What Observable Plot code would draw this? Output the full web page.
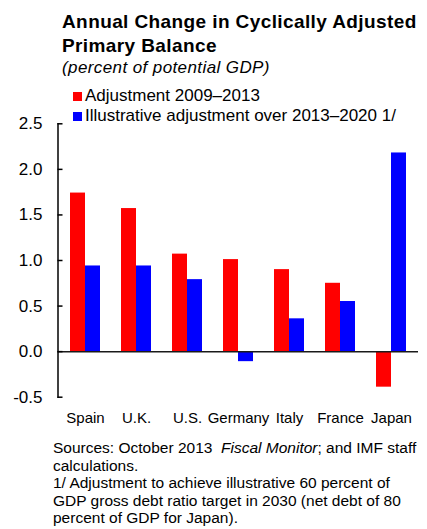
<!DOCTYPE html>
<html><head><meta charset="utf-8">
<script src="https://cdn.jsdelivr.net/npm/d3@7"></script>
<script src="https://cdn.jsdelivr.net/npm/@observablehq/plot@0.6"></script>
<style>
body{margin:0;background:#fff;}
#wrap{position:relative;width:427px;height:529px;font-family:"Liberation Sans",Arial,sans-serif;color:#000;overflow:hidden;background:#fff}
.title{position:absolute;left:62px;top:9.5px;font-weight:bold;font-size:19px;letter-spacing:0.4px;line-height:24px;white-space:nowrap}
.subtitle{position:absolute;left:62px;top:57.5px;font-style:italic;font-size:17px;letter-spacing:0.4px;line-height:20px;white-space:nowrap}
.legend{position:absolute;left:73px;top:86.2px;font-size:17px;line-height:20px;white-space:nowrap;z-index:2}
.legend .sw{display:inline-block;width:9px;height:9px;margin-right:3px;vertical-align:0px}
.note{position:absolute;left:53px;top:439px;font-size:15.5px;line-height:17.6px;white-space:nowrap}
#chart{position:absolute;left:0;top:100px}
</style>
</head><body>
<div id="wrap">
  <div class="title">Annual Change in Cyclically Adjusted<br>Primary Balance</div>
  <div class="subtitle">(percent of potential GDP)</div>
  <div class="legend" id="legend"></div>
  <div id="chart"></div>
  <div class="note">Sources: October 2013&nbsp; <i>Fiscal Monitor</i>; and IMF staff<br>calculations.<br>1/ Adjustment to achieve illustrative 60 percent of<br>GDP gross debt ratio target in 2030 (net debt of 80<br>percent of GDP for Japan).</div>
</div>
<script>
const countries = ["Spain", "U.K.", "U.S.", "Germany", "Italy", "France", "Japan"];
const seriesNames = ["Adjustment 2009\u20132013", "Illustrative adjustment over 2013\u20132020 1/"];
const seriesColors = ["#ff0000", "#0000ff"];
const adj2009to2013 = [1.74, 1.57, 1.07, 1.01, 0.90, 0.75, -0.39];
const adj2013to2020 = [0.94, 0.94, 0.79, -0.11, 0.36, 0.55, 2.18];
const yTicks = [-0.5, 0, 0.5, 1.0, 1.5, 2.0, 2.5];

const rows0 = countries.map((c, i) => ({country: c, series: seriesNames[0], value: adj2009to2013[i]}));
const rows1 = countries.map((c, i) => ({country: c, series: seriesNames[1], value: adj2013to2020[i]}));

const legend = document.getElementById("legend");
seriesNames.forEach((s, i) => {
  const row = document.createElement("div");
  row.innerHTML = `<span class="sw" style="background:${seriesColors[i]}"></span>${s}`;
  legend.appendChild(row);
});

function build(half) {
  return Plot.plot({
    width: 427, height: 330,
    marginLeft: 57.5, marginRight: 9, marginTop: 23.3, marginBottom: 33.3,
    style: {fontFamily: "'Liberation Sans', Arial, sans-serif", fontSize: "17px", background: "transparent", color: "#000", overflow: "visible"},
    x: {domain: countries, paddingInner: 0.42, paddingOuter: 0.21},
    y: {domain: [-0.5, 2.5]},
    color: {domain: seriesNames, range: seriesColors},
    marks: [
      Plot.barY(rows0, {x: "country", y: "value", fill: "series", insetRight: half}),
      Plot.barY(rows1, {x: "country", y: "value", fill: "series", insetLeft: half}),
      Plot.ruleY([0], {stroke: "#1a1a1a", strokeWidth: 1.5}),
      Plot.frame({anchor: "left", stroke: "#000", strokeWidth: 1.5}),
      Plot.axisY(yTicks, {tickSize: -5, tickPadding: 20.5, strokeWidth: 1.5, tickFormat: d => d.toFixed(1), fontSize: 17, label: null}),
      Plot.axisX({tickSize: 0, tickPadding: 15.5, fontSize: 15, label: null})
    ]
  });
}
const probe = build(0);
const bw = probe.scale("x").bandwidth;
document.getElementById("chart").appendChild(build(bw / 2));
</script>
</body></html>
